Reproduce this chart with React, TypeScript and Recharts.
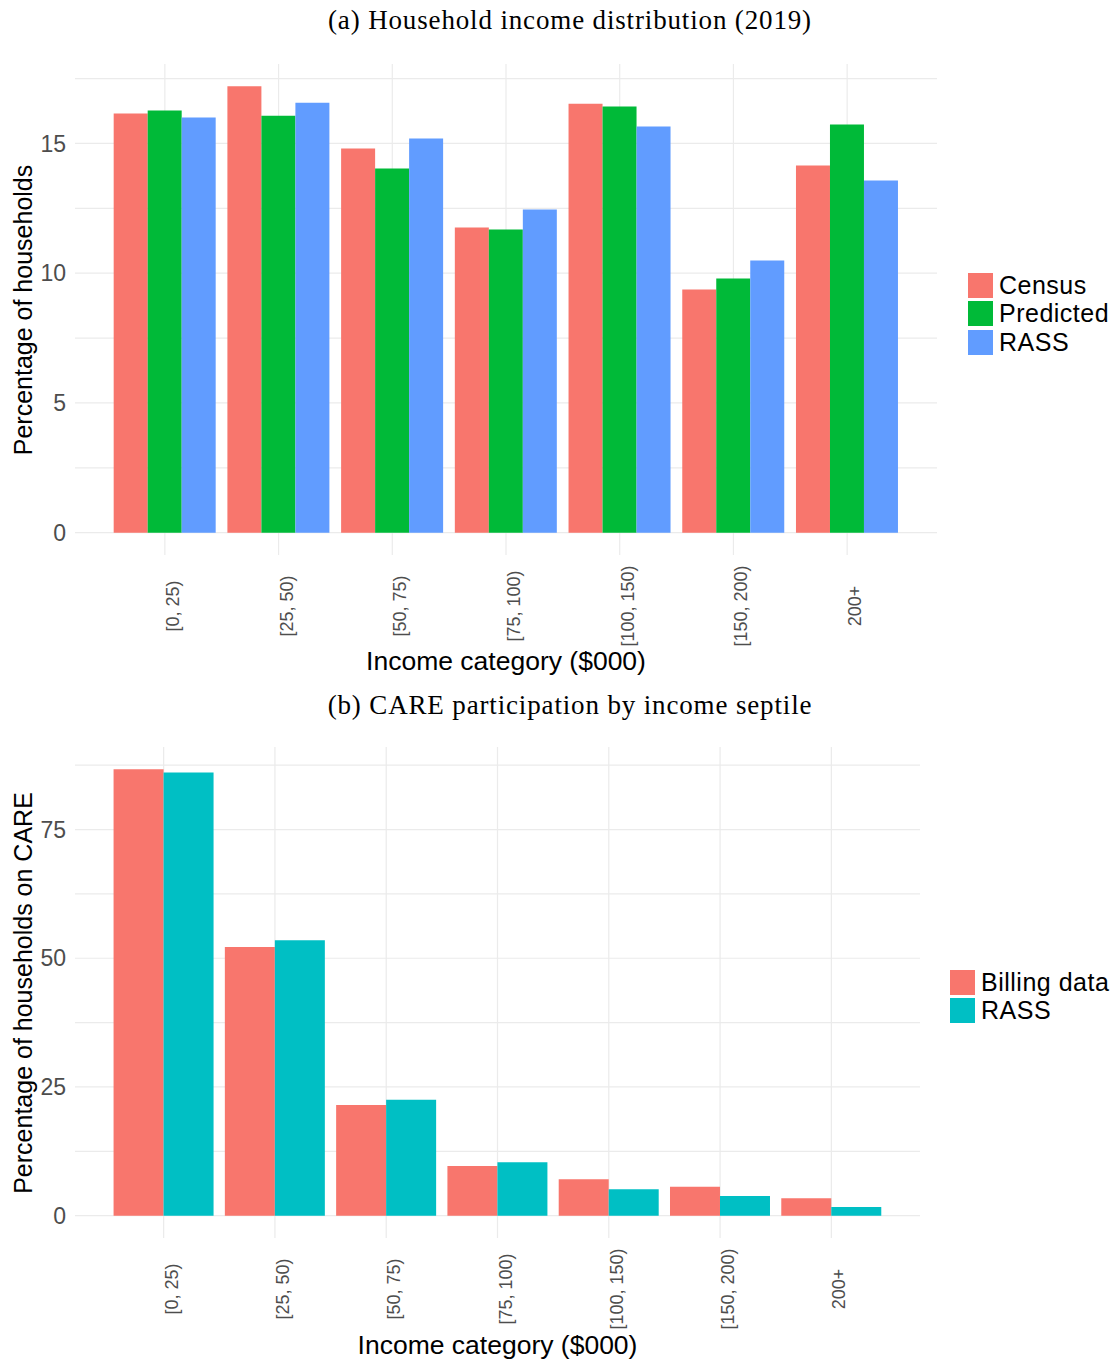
import { Bar, BarChart, CartesianGrid, XAxis, YAxis } from "recharts";

const incomeCategories = ["[0, 25)", "[25, 50)", "[50, 75)", "[75, 100)", "[100, 150)", "[150, 200)", "200+"];

// (a) household income distribution, % of households
const censusPct = [16.15, 17.2, 14.8, 11.76, 16.53, 9.37, 14.15];
const predictedPct = [16.27, 16.07, 14.03, 11.68, 16.42, 9.79, 15.73];
const rassPct = [16.0, 16.57, 15.19, 12.45, 15.65, 10.49, 13.57];
const distTicks = [0, 5, 10, 15];
const distGrid = [0, 2.5, 5, 7.5, 10, 12.5, 15, 17.5];

// (b) CARE participation, % of households
const billingCare = [86.7, 52.2, 21.5, 9.65, 7.1, 5.6, 3.4];
const rassCare = [86.1, 53.5, 22.5, 10.4, 5.15, 3.8, 1.7];
const careTicks = [0, 25, 50, 75];
const careGrid = [0, 12.5, 25, 37.5, 50, 62.5, 75, 87.5];

const SANS = '"Liberation Sans", Arial, sans-serif';
const SERIF = '"Liberation Serif", "Times New Roman", serif';
const GRID = "#ebebeb";
const TICK = "#4d4d4d";

// ggplot-like 5% expansion on both ends
const expand = (vals: number[]) => {
  const max = Math.max(...vals);
  return [-max * 0.05, max * 1.05];
};

const distData = incomeCategories.map((cat, i) => ({
  cat,
  Census: censusPct[i],
  Predicted: predictedPct[i],
  RASS: rassPct[i],
}));

const careData = incomeCategories.map((cat, i) => ({
  cat,
  "Billing data": billingCare[i],
  RASS: rassCare[i],
}));

function RotatedTick(props: any) {
  const { x, y, payload } = props;
  return (
    <text
      transform={`translate(${x + 14}, ${y + 51}) rotate(-90)`}
      textAnchor="middle"
      fill={TICK}
      fontSize={18}
      fontFamily={SANS}
    >
      {payload.value}
    </text>
  );
}

function LegendBox({ items, left, top }: { items: { label: string; color: string }[]; left: number; top: number }) {
  return (
    <div style={{ position: "absolute", left, top, fontFamily: SANS, fontSize: 25, color: "#000" }}>
      {items.map((it) => (
        <div key={it.label} style={{ display: "flex", alignItems: "center", height: 28.5 }}>
          <div style={{ width: 25, height: 25, background: it.color, marginRight: 6 }} />
          <span style={{ lineHeight: "25px", whiteSpace: "nowrap", letterSpacing: 0.5 }}>{it.label}</span>
        </div>
      ))}
    </div>
  );
}

const titleStyle = (top: number): React.CSSProperties => ({
  position: "absolute",
  left: 0,
  width: 1140,
  top,
  textAlign: "center",
  fontFamily: SERIF,
  fontSize: 27,
  letterSpacing: 0.85,
  lineHeight: "30px",
  color: "#000",
});

const axisTitle = (left: number, width: number, top: number): React.CSSProperties => ({
  position: "absolute",
  left,
  width,
  top,
  textAlign: "center",
  fontFamily: SANS,
  fontSize: 26.5,
  lineHeight: "30px",
  color: "#000",
});

const yTitle = (cx: number, cy: number): React.CSSProperties => ({
  position: "absolute",
  left: cx - 300,
  top: cy - 15,
  width: 600,
  textAlign: "center",
  transform: "rotate(-90deg)",
  fontFamily: SANS,
  fontSize: 25,
  lineHeight: "30px",
  color: "#000",
});

export default function App() {
  return (
    <div style={{ position: "absolute", left: 0, top: 0, width: 1115, height: 1359, background: "#fff" }}>
      <div style={titleStyle(5)}>(a) Household income distribution (2019)</div>
      <div style={{ position: "absolute", left: 0, top: 0 }}>
        <BarChart
          width={1115}
          height={690}
          data={distData}
          margin={{ top: 64, right: 178, bottom: 35, left: 0 }}
          barCategoryGap="5%"
          barGap={0}
        >
          <CartesianGrid stroke={GRID} strokeWidth={1.2} horizontalValues={distGrid} syncWithTicks />
          <XAxis
            dataKey="cat"
            axisLine={false}
            tickLine={false}
            tickSize={0}
            tickMargin={0}
            height={100}
            interval={0}
            padding={{ left: 33, right: 33 }}
            tick={<RotatedTick />}
          />
          <YAxis
            type="number"
            domain={expand([...censusPct, ...predictedPct, ...rassPct])}
            allowDataOverflow
            ticks={distTicks}
            interval={0}
            width={75}
            axisLine={false}
            tickLine={false}
            tickSize={0}
            tickMargin={9}
            tick={{ fill: TICK, fontSize: 23, fontFamily: SANS }}
          />
          <Bar dataKey="Census" fill="#F8766D" isAnimationActive={false} />
          <Bar dataKey="Predicted" fill="#00BA38" isAnimationActive={false} />
          <Bar dataKey="RASS" fill="#619CFF" isAnimationActive={false} />
        </BarChart>
      </div>
      <div style={yTitle(23, 310)}>Percentage of households</div>
      <div style={axisTitle(75, 862, 646)}>Income category ($000)</div>
      <LegendBox
        left={968}
        top={271}
        items={[
          { label: "Census", color: "#F8766D" },
          { label: "Predicted", color: "#00BA38" },
          { label: "RASS", color: "#619CFF" },
        ]}
      />

      <div style={titleStyle(690)}>(b) CARE participation by income septile</div>
      <div style={{ position: "absolute", left: 0, top: 690 }}>
        <BarChart
          width={1115}
          height={669}
          data={careData}
          margin={{ top: 57, right: 195, bottom: 21, left: 0 }}
          barCategoryGap="5%"
          barGap={0}
        >
          <CartesianGrid stroke={GRID} strokeWidth={1.2} horizontalValues={careGrid} syncWithTicks />
          <XAxis
            dataKey="cat"
            axisLine={false}
            tickLine={false}
            tickSize={0}
            tickMargin={0}
            height={100}
            interval={0}
            padding={{ left: 33, right: 33 }}
            tick={<RotatedTick />}
          />
          <YAxis
            type="number"
            domain={expand([...billingCare, ...rassCare])}
            allowDataOverflow
            ticks={careTicks}
            interval={0}
            width={75}
            axisLine={false}
            tickLine={false}
            tickSize={0}
            tickMargin={9}
            tick={{ fill: TICK, fontSize: 23, fontFamily: SANS }}
          />
          <Bar dataKey="Billing data" fill="#F8766D" isAnimationActive={false} />
          <Bar dataKey="RASS" fill="#00BFC4" isAnimationActive={false} />
        </BarChart>
      </div>
      <div style={yTitle(23, 993)}>Percentage of households on CARE</div>
      <div style={axisTitle(75, 845, 1330)}>Income category ($000)</div>
      <LegendBox
        left={950}
        top={968}
        items={[
          { label: "Billing data", color: "#F8766D" },
          { label: "RASS", color: "#00BFC4" },
        ]}
      />
    </div>
  );
}
